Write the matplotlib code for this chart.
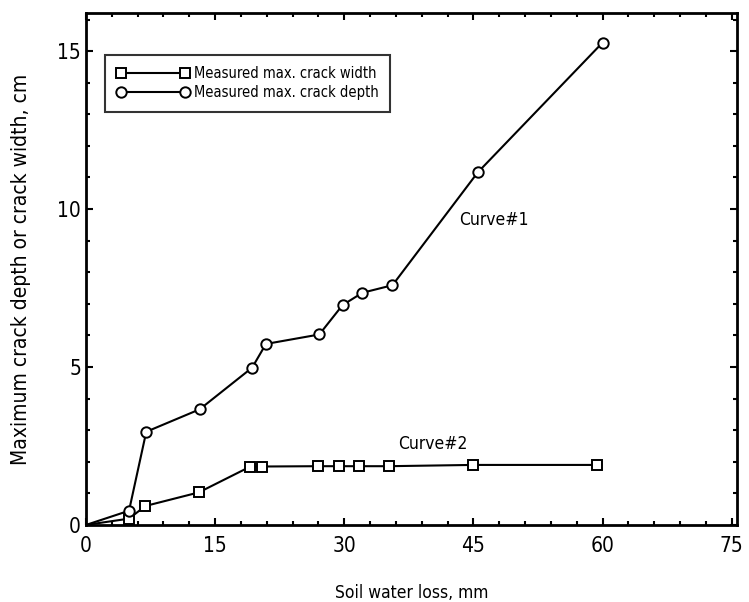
# Crack depth / crack width vs soil water loss

import numpy as np
from matplotlib import pyplot as plt
from matplotlib.ticker import MultipleLocator

# narrow font like the scanned figure
plt.rcParams['font.family'] = ['DejaVu Sans']
plt.rcParams['font.stretch'] = 'condensed'

# Data
loss_depth = [0, 5.0, 7.0, 13.2, 19.3, 20.9, 27.1, 29.8, 32.1, 35.6, 45.5, 60.0]
crack_depth = [0, 0.45, 2.95, 3.66, 4.98, 5.73, 6.03, 6.96, 7.35, 7.59, 11.16, 15.27]

loss_width = [0, 5.0, 6.9, 13.1, 19.1, 20.5, 26.9, 29.4, 31.7, 35.2, 44.9, 59.3]
crack_width = [0, 0.2, 0.6, 1.03, 1.85, 1.85, 1.86, 1.86, 1.86, 1.86, 1.9, 1.9]

x_ticks = [0, 15, 30, 45, 60, 75]
y_ticks = [0, 5, 10, 15]

fig = plt.figure(figsize=(7.49, 6.02), dpi=100)
ax = fig.add_axes([0.1148, 0.128, 0.869, 0.85])

ax.plot(loss_width, crack_width, color='black', lw=1.5, marker='s', ms=7,
        mfc='white', mec='black', mew=1.4, markevery=list(range(1, len(loss_width))),
        label='Measured max. crack width')
ax.plot(loss_depth, crack_depth, color='black', lw=1.5, marker='o', ms=7.5,
        mfc='white', mec='black', mew=1.4, markevery=list(range(1, len(loss_depth))),
        label='Measured max. crack depth')

ax.text(43.3, 9.65, 'Curve#1', fontsize=12.5, va='center', ha='left')
ax.text(36.3, 2.55, 'Curve#2', fontsize=12.5, va='center', ha='left')

ax.set_xlim(0, 75.6)
ax.set_ylim(0, 16.2)
ax.set_xticks(x_ticks)
ax.set_yticks(y_ticks)
ax.xaxis.set_minor_locator(MultipleLocator(3))
ax.yaxis.set_minor_locator(MultipleLocator(1))
ax.tick_params(which='both', direction='in', top=True, right=True, labelsize=15, width=1.5)
ax.tick_params(which='major', length=5)
ax.tick_params(which='minor', length=3)
ax.tick_params(axis='x', pad=8)
for s in ax.spines.values():
    s.set_linewidth(2)

ax.set_xlabel('Soil water loss, mm', fontsize=12.5, labelpad=20)
ax.set_ylabel('Maximum crack depth or crack width, cm', fontsize=15, labelpad=19)

leg = ax.legend(loc='upper left', bbox_to_anchor=(0.018, 0.933), numpoints=2,
                handlelength=5, fontsize=10.5, frameon=True, fancybox=False,
                borderpad=0.8, labelspacing=0.25, handletextpad=0.3)
leg.get_frame().set_edgecolor('black')
leg.get_frame().set_linewidth(1.5)

plt.savefig('out.png', dpi=100)
